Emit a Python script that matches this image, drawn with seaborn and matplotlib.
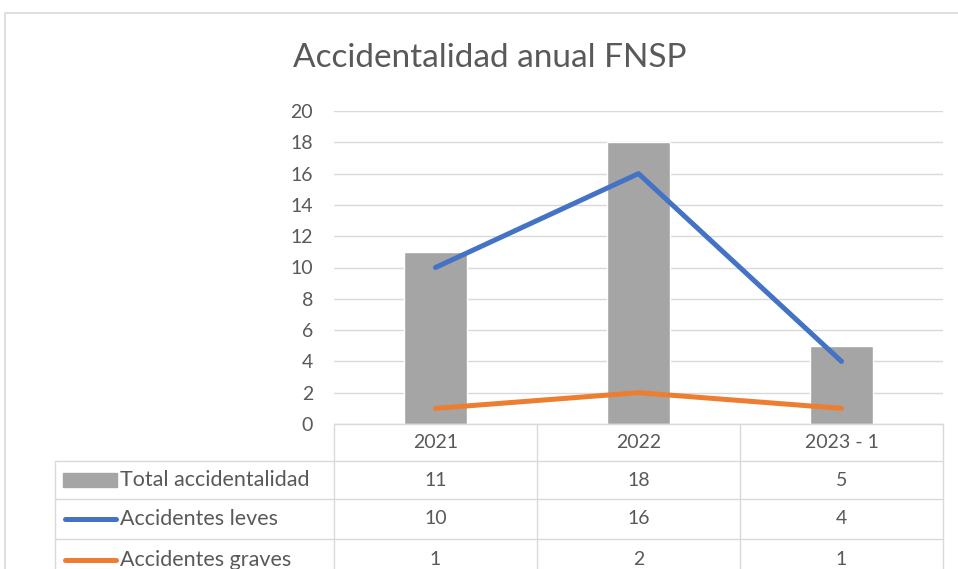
import matplotlib
matplotlib.use("Agg")
import matplotlib.pyplot as plt
from matplotlib.lines import Line2D
from matplotlib.patches import Rectangle
import seaborn as sns
import pandas as pd

categories = ["2021", "2022", "2023 - 1"]
total_accidentalidad = [11, 18, 5]
accidentes_leves = [10, 16, 4]
accidentes_graves = [1, 2, 1]
y_ticks = list(range(0, 21, 2))

series_names = ["Total accidentalidad", "Accidentes leves", "Accidentes graves"]

GRAY = "#A5A5A5"
BLUE = "#4472C4"
ORANGE = "#ED7D31"
TEXT = "#595959"
GRID = "#D9D9D9"

sns.set_theme(style="white")
plt.rcParams["font.family"] = ["Lato", "DejaVu Sans"]

W, H = 958, 569
fig = plt.figure(figsize=(W / 100, H / 100), dpi=100)

def fx(px):
    return px / W

def fy(py):
    return 1 - py / H

# plot area in pixel coordinates
x0, x1 = 334, 943
y_top, y_bot = 111, 424
ax = fig.add_axes([fx(x0), fy(y_bot), fx(x1 - x0), (y_bot - y_top) / H])

df = pd.DataFrame({
    "periodo": categories,
    "total": total_accidentalidad,
    "leves": accidentes_leves,
    "graves": accidentes_graves,
})

LW = 3.6
sns.barplot(data=df, x="periodo", y="total", color=GRAY, width=0.315,
            saturation=1, ax=ax, zorder=2)
sns.lineplot(data=df, x="periodo", y="leves", color=BLUE, lw=LW, ax=ax,
             sort=False, zorder=3, solid_capstyle="round")
sns.lineplot(data=df, x="periodo", y="graves", color=ORANGE, lw=LW, ax=ax,
             sort=False, zorder=3, solid_capstyle="round")

NUM_FS = 14
NAME_FS = 15.5

ax.set_xlim(-0.5, 2.5)
ax.set_ylim(0, 20)
ax.set_yticks(y_ticks)
ax.set_yticklabels([str(t) for t in y_ticks], color=TEXT, fontsize=NUM_FS)
ax.tick_params(axis="y", length=0, pad=15)
ax.set_xticks([])
ax.set_xlabel("")
ax.set_ylabel("")
for sp in ax.spines.values():
    sp.set_visible(False)
ax.grid(axis="y", color=GRID, lw=1, zorder=0)
ax.set_axisbelow(True)

# title
fig.text(fx(490), fy(58), "Accidentalidad anual FNSP", ha="center", va="center",
         fontsize=24, color=TEXT)

# outer chart frame
fig.patches.append(Rectangle((fx(5), fy(600)), fx(1000), (600 - 13) / H,
                             transform=fig.transFigure, fill=False,
                             edgecolor=GRID, lw=1.2))

# data table
cols = [334, 537, 740, 943]
rows = [424, 461, 499, 539, 580]
tbl_left = 55

def hline(y, xa, xb):
    fig.add_artist(Line2D([fx(xa), fx(xb)], [fy(y), fy(y)], color=GRID, lw=1))

def vline(x, ya, yb):
    fig.add_artist(Line2D([fx(x), fx(x)], [fy(ya), fy(yb)], color=GRID, lw=1))

hline(rows[0], cols[0], cols[-1])
for r in rows[1:]:
    hline(r, tbl_left, cols[-1])
for c in cols:
    vline(c, rows[0], rows[-1])
vline(tbl_left, rows[1], rows[-1])

for i, cat in enumerate(categories):
    cx = (cols[i] + cols[i + 1]) / 2
    fig.text(fx(cx), fy((rows[0] + rows[1]) / 2), cat, ha="center", va="center",
             fontsize=NUM_FS, color=TEXT)

table_values = [total_accidentalidad, accidentes_leves, accidentes_graves]
for r, (name, vals) in enumerate(zip(series_names, table_values)):
    cy = (rows[r + 1] + rows[r + 2]) / 2
    if r == 0:
        fig.patches.append(Rectangle((fx(63), fy(cy + 7)), fx(117 - 63), 14 / H,
                                     transform=fig.transFigure, color=GRAY))
    else:
        col = BLUE if r == 1 else ORANGE
        fig.add_artist(Line2D([fx(65), fx(116)], [fy(cy), fy(cy)], color=col,
                              lw=LW, solid_capstyle="round"))
    fig.text(fx(120), fy(cy), name, ha="left", va="center", fontsize=NAME_FS,
             color=TEXT)
    for i, v in enumerate(vals):
        cx = (cols[i] + cols[i + 1]) / 2
        fig.text(fx(cx), fy(cy), str(v), ha="center", va="center",
                 fontsize=NUM_FS, color=TEXT)

fig.savefig("out.png", dpi=100, facecolor="white")
